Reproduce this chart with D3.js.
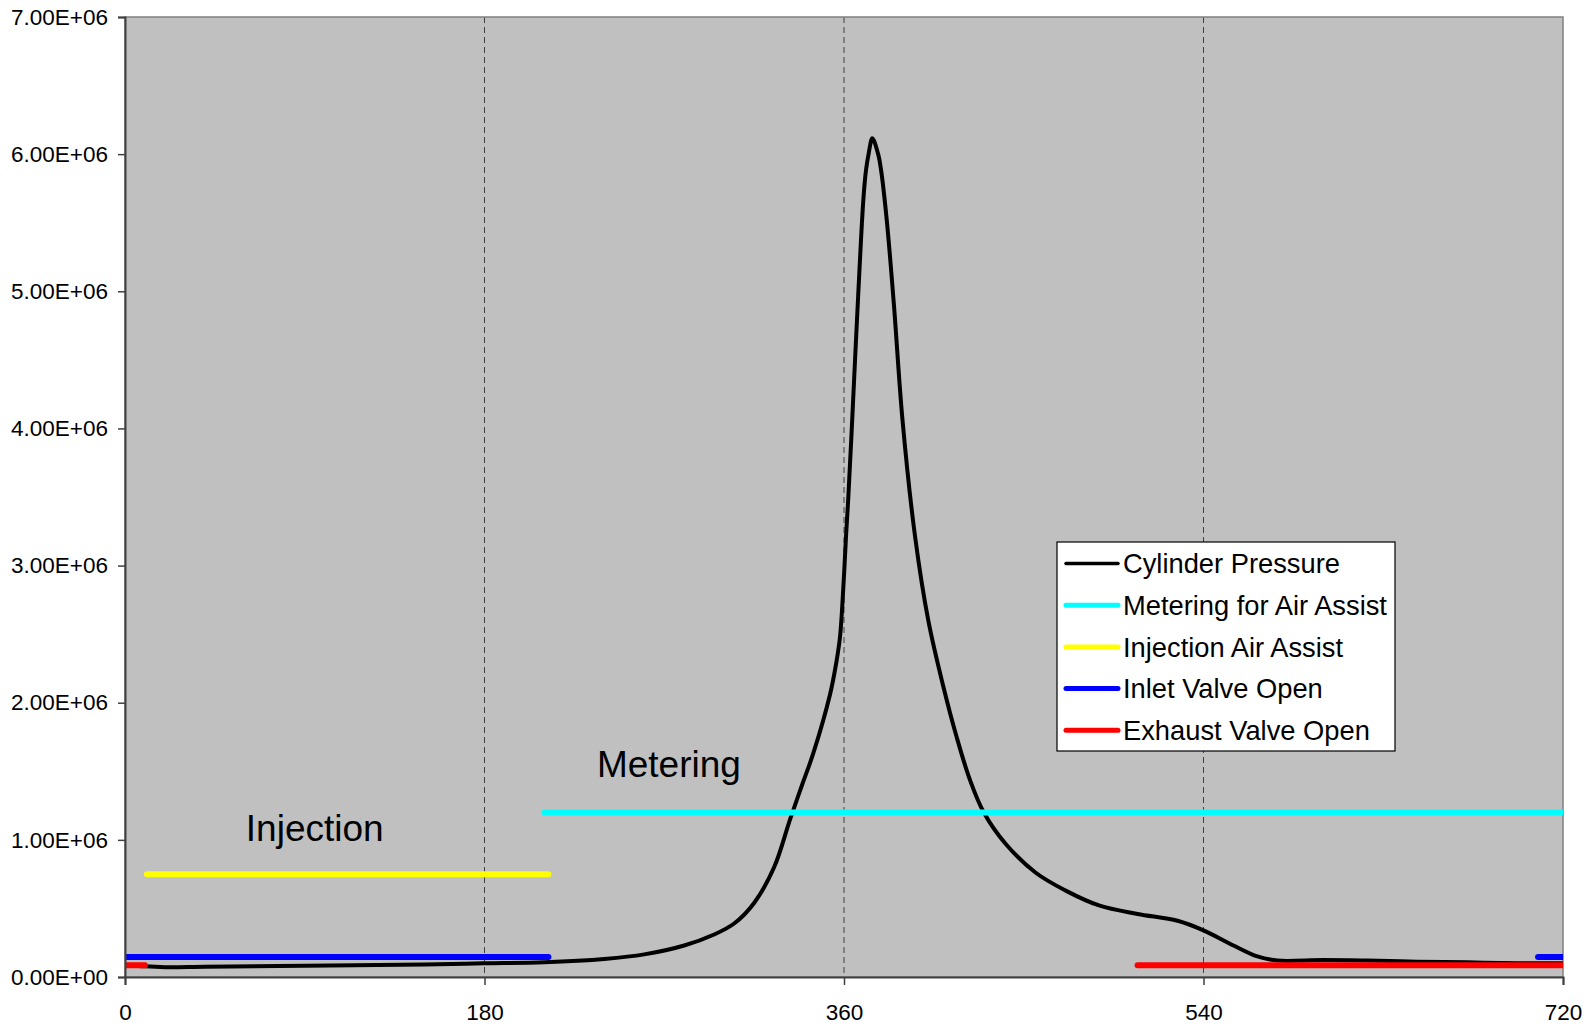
<!DOCTYPE html>
<html>
<head>
<meta charset="utf-8">
<script src="https://cdn.jsdelivr.net/npm/d3@7"></script>
<style>
  body { margin: 0; background: #ffffff; }
  text { font-family: "Liberation Sans", Arial, sans-serif; fill: #000000; }
</style>
</head>
<body>
<script>
'use strict';

(function () {

  // crank angle (deg) and cylinder pressure (Pa)
  const crankAngle = [0, 10, 20, 40, 90, 150, 180, 210, 240, 260, 280, 295, 305, 315, 325, 333, 339, 344.6,
    353, 356, 358, 359.7, 361, 362.1, 363.8, 367, 369.7, 371, 372.3, 374.2, 377.1, 378.6, 381.4, 385, 389.3,
    395.6, 402.2, 409.7, 416.4, 423, 430, 441, 456, 471, 488, 507, 527, 540, 555, 567,
    577, 600, 622, 647, 672, 697, 720];
  const cylPressure = [0.09e6, 0.078e6, 0.072e6, 0.075e6, 0.082e6, 0.092e6, 0.1e6, 0.108e6, 0.132e6, 0.165e6,
    0.23e6, 0.31e6, 0.39e6, 0.54e6, 0.8e6, 1.15e6, 1.4e6, 1.63e6, 2.06e6, 2.28e6, 2.48e6, 2.85e6, 3.21e6,
    3.48e6, 3.97e6, 4.94e6, 5.67e6, 5.88e6, 6.0e6, 6.115e6, 6.0e6, 5.88e6, 5.52e6, 4.9e6, 4.06e6,
    3.21e6, 2.6e6, 2.12e6, 1.75e6, 1.44e6, 1.2e6, 0.97e6, 0.76e6, 0.63e6, 0.52e6, 0.46e6,
    0.41e6, 0.34e6, 0.23e6, 0.15e6, 0.12e6, 0.124e6, 0.12e6, 0.112e6, 0.107e6, 0.1e6, 0.1e6];

  // flat event bars: [start angle, end angle] pairs at a level
  const meteringSpans = [[210, 720]];
  const meteringLevel = 1.2e6;
  const injectionSpans = [[11, 212]];
  const injectionLevel = 0.75e6;
  const inletSpans = [[0, 212], [707.5, 720]];
  const inletLevel = 0.145e6;
  const exhaustSpans = [[0, 10], [507, 720]];
  const exhaustLevel = 0.085e6;

  const seriesNames = ["Cylinder Pressure", "Metering for Air Assist", "Injection Air Assist", "Inlet Valve Open", "Exhaust Valve Open"];
  const seriesColors = ["#000000", "#00ffff", "#ffff00", "#0000ff", "#ff0000"];

  const xTicks = [0, 180, 360, 540, 720];
  const yTicks = [0, 1e6, 2e6, 3e6, 4e6, 5e6, 6e6, 7e6];
  const gridAngles = [180, 360, 540];

  const annotations = [
    { text: "Injection", angle: 60.5, value: 0.995e6 },
    { text: "Metering", angle: 236.3, value: 1.455e6 }
  ];

  const margin = { left: 125, top: 17, right: 29, bottom: 57 };
  const width = 1592, height = 1034;
  const plotW = width - margin.left - margin.right;
  const plotH = height - margin.top - margin.bottom;

  let svgContainer = d3.select('body')
    .append('svg')
    .attr('width', width)
    .attr('height', height);

  let plot = svgContainer.append('g')
    .attr('transform', 'translate(' + margin.left + ',' + margin.top + ')');

  let xScale = d3.scaleLinear().domain([0, 720]).range([0, plotW]);
  let yScale = d3.scaleLinear().domain([0, 7e6]).range([plotH, 0]);

  // 7.00E+06 style labels
  function sciFormat(v) {
    let parts = v.toExponential(2).split('e');
    let exp = parseInt(parts[1], 10);
    let sign = exp < 0 ? '-' : '+';
    let digits = String(Math.abs(exp)).padStart(2, '0');
    return parts[0] + 'E' + sign + digits;
  }

  drawBackground();
  plotData();
  makeLabels();
  drawAxes();
  createLegend();

  function drawBackground() {
    plot.append('rect')
      .attr('width', plotW)
      .attr('height', plotH)
      .attr('fill', '#c0c0c0');

    // dashed vertical gridlines
    plot.selectAll('.grid')
      .data(gridAngles)
      .enter()
      .append('line')
      .attr('class', 'grid')
      .attr('x1', d => xScale(d))
      .attr('x2', d => xScale(d))
      .attr('y1', 0)
      .attr('y2', plotH)
      .attr('stroke', '#404040')
      .attr('stroke-width', 1)
      .attr('stroke-dasharray', '6,4');

    // plot border (top / right)
    plot.append('rect')
      .attr('width', plotW)
      .attr('height', plotH)
      .attr('fill', 'none')
      .attr('stroke', '#808080')
      .attr('stroke-width', 1.5);
  }

  function plotData() {
    let clip = svgContainer.append('defs').append('clipPath').attr('id', 'plot-clip');
    clip.append('rect').attr('width', plotW).attr('height', plotH);

    let layer = plot.append('g').attr('clip-path', 'url(#plot-clip)');

    let points = crankAngle.map((a, i) => [a, cylPressure[i]]);
    let line = d3.line()
      .x(d => xScale(d[0]))
      .y(d => yScale(d[1]))
      .curve(d3.curveCatmullRom.alpha(0.5));

    layer.append('path')
      .datum(points)
      .attr('d', line)
      .attr('fill', 'none')
      .attr('stroke', seriesColors[0])
      .attr('stroke-width', 4)
      .attr('stroke-linejoin', 'round');

    let bars = [
      { spans: meteringSpans, level: meteringLevel, color: seriesColors[1] },
      { spans: injectionSpans, level: injectionLevel, color: seriesColors[2] },
      { spans: inletSpans, level: inletLevel, color: seriesColors[3] },
      { spans: exhaustSpans, level: exhaustLevel, color: seriesColors[4] }
    ];

    bars.forEach(function (b) {
      layer.selectAll(null)
        .data(b.spans)
        .enter()
        .append('line')
        .attr('x1', d => xScale(d[0]))
        .attr('x2', d => xScale(d[1]))
        .attr('y1', yScale(b.level))
        .attr('y2', yScale(b.level))
        .attr('stroke', b.color)
        .attr('stroke-width', 6)
        .attr('stroke-linecap', 'round');
    });
  }

  function makeLabels() {
    plot.selectAll('.note')
      .data(annotations)
      .enter()
      .append('text')
      .attr('class', 'note')
      .attr('x', d => xScale(d.angle))
      .attr('y', d => yScale(d.value))
      .style('font-size', '37px')
      .text(d => d.text);
  }

  function drawAxes() {
    let yAxis = d3.axisLeft(yScale)
      .tickValues(yTicks)
      .tickSize(7)
      .tickPadding(10)
      .tickFormat(sciFormat);
    let gy = plot.append('g').call(yAxis);
    gy.select('.domain').attr('stroke', '#404040').attr('stroke-width', 2);
    gy.selectAll('.tick line').attr('stroke', '#404040').attr('stroke-width', 1.5);
    gy.selectAll('.tick text').style('font-size', '22.5px').attr('fill', '#000');

    let xAxis = d3.axisBottom(xScale)
      .tickValues(xTicks)
      .tickSize(8)
      .tickPadding(19)
      .tickFormat(d3.format('d'));
    let gx = plot.append('g')
      .attr('transform', 'translate(0,' + plotH + ')')
      .call(xAxis);
    gx.select('.domain').attr('stroke', '#404040').attr('stroke-width', 2);
    gx.selectAll('.tick line').attr('stroke', '#404040').attr('stroke-width', 1.5);
    gx.selectAll('.tick text').style('font-size', '22.5px').attr('fill', '#000');
  }

  function createLegend() {
    let lx = 1057, ly = 542, lw = 338, lh = 209;
    let legend = svgContainer.append('g').attr('transform', 'translate(' + lx + ',' + ly + ')');

    legend.append('rect')
      .attr('width', lw)
      .attr('height', lh)
      .attr('fill', '#ffffff')
      .attr('stroke', '#000000')
      .attr('stroke-width', 1.2);

    let rows = legend.selectAll('.row')
      .data(seriesNames)
      .enter()
      .append('g')
      .attr('class', 'row')
      .attr('transform', (d, i) => 'translate(0,' + (21.5 + i * 41.7) + ')');

    rows.append('line')
      .attr('x1', 9)
      .attr('x2', 61)
      .attr('stroke', (d, i) => seriesColors[i])
      .attr('stroke-width', (d, i) => i == 0 ? 3.5 : 5)
      .attr('stroke-linecap', 'round');

    rows.append('text')
      .attr('x', 66)
      .attr('dy', '0.36em')
      .style('font-size', '27.3px')
      .text(d => d);
  }
})();
</script>
</body>
</html>
